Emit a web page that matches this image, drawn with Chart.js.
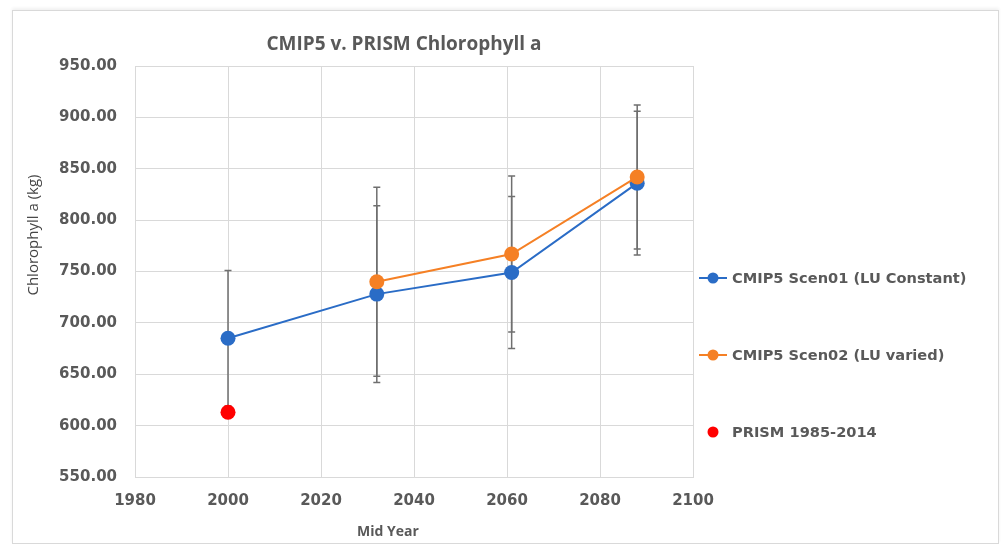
<!DOCTYPE html>
<html>
<head>
<meta charset="utf-8">
<script src="https://cdn.jsdelivr.net/npm/chart.js@4/dist/chart.umd.min.js"></script>
<style>
    html, body { margin: 0; padding: 0; background: #fff; }
    #frame {
        position: absolute; left: 12px; top: 10px; width: 985px; height: 532px;
        border: 1px solid #d9d9d9; box-shadow: 0 -2px 3px rgba(0,0,0,0.06);
    }
    #wrap { position: absolute; left: 0; top: 0; width: 1001px; height: 545px; }
</style>
</head>
<body>
<div id="frame"></div>
<div id="wrap"><canvas id="chl" width="1001" height="545"></canvas></div>
<script>
// Mid-year of each projection window
const years = [2000, 2032, 2061, 2088];
// Chlorophyll a (kg) with +/- spread
const scen01 = [685, 728, 749, 836];
const scen01Err = [66, 86, 74, 70];
const scen02 = [null, 740, 767, 842];
const scen02Err = [null, 92, 76, 70];
// Observed baseline
const prismYears = [2000];
const prism = [613];

const BLUE = '#2a6cc6';
const ORANGE = '#f58025';
const RED = '#ff0000';
const TEXT = '#595959';
const GRID = '#d9d9d9';

const labels = ['CMIP5 Scen01 (LU Constant)', 'CMIP5 Scen02 (LU varied)', 'PRISM 1985-2014'];

const toPoints = (xs, ys) => xs.map((x, i) => ({ x: x, y: ys[i] })).filter(p => p.y !== null);

// Vertical error bars with small caps, drawn under the markers
const errorBars = {
    id: 'errorBars',
    beforeDatasetsDraw(chart) {
        const { ctx, scales: { x, y } } = chart;
        const sets = [[scen01, scen01Err], [scen02, scen02Err]];
        ctx.save();
        ctx.strokeStyle = '#6f6f6f';
        ctx.lineWidth = 1.5;
        sets.forEach(([vals, errs]) => {
            vals.forEach((v, i) => {
                if (v === null || errs[i] === null) return;
                const px = x.getPixelForValue(years[i]);
                const top = y.getPixelForValue(v + errs[i]);
                const bot = y.getPixelForValue(v - errs[i]);
                ctx.beginPath();
                ctx.moveTo(px, top); ctx.lineTo(px, bot);
                ctx.moveTo(px - 3.5, top); ctx.lineTo(px + 3.5, top);
                ctx.moveTo(px - 3.5, bot); ctx.lineTo(px + 3.5, bot);
                ctx.stroke();
            });
        });
        ctx.restore();
    }
};

// Title, axis titles and the side legend
const decorations = {
    id: 'decorations',
    afterDraw(chart) {
        const ctx = chart.ctx;
        ctx.save();
        ctx.fillStyle = TEXT;
        ctx.textAlign = 'center';
        ctx.textBaseline = 'middle';
        ctx.font = 'bold 19px "Open Sans"';
        ctx.fillText('CMIP5 v. PRISM Chlorophyll a', 404, 45);

        ctx.font = 'bold 14px "Open Sans"';
        ctx.fillText('Mid Year', 388, 532);

        ctx.save();
        ctx.translate(34, 235);
        ctx.rotate(-Math.PI / 2);
        ctx.fillStyle = '#454545';
        ctx.font = '15px "Open Sans"';
        ctx.fillText('Chlorophyll a (kg)', 0, 0);
        ctx.restore();

        const colors = [BLUE, ORANGE, RED];
        const rows = [278, 355, 432];
        ctx.textAlign = 'left';
        ctx.font = 'bold 14.6px "DejaVu Sans"';
        rows.forEach((ry, i) => {
            if (i < 2) {
                ctx.strokeStyle = colors[i];
                ctx.lineWidth = 2;
                ctx.beginPath();
                ctx.moveTo(699, ry); ctx.lineTo(727, ry);
                ctx.stroke();
            }
            ctx.fillStyle = colors[i];
            ctx.beginPath();
            ctx.arc(713, ry, 5.5, 0, Math.PI * 2);
            ctx.fill();
            ctx.fillStyle = TEXT;
            ctx.fillText(labels[i], 732, ry + 1);
        });
        ctx.restore();
    }
};

new Chart(document.getElementById('chl'), {
    type: 'scatter',
    data: {
        datasets: [{
            label: labels[0],
            data: toPoints(years, scen01),
            showLine: true,
            borderColor: BLUE,
            backgroundColor: BLUE,
            borderWidth: 2,
            pointRadius: 7.5,
            pointBorderWidth: 0,
            order: 3
        }, {
            label: labels[1],
            data: toPoints(years, scen02),
            showLine: true,
            borderColor: ORANGE,
            backgroundColor: ORANGE,
            borderWidth: 2,
            pointRadius: 7.5,
            pointBorderWidth: 0,
            order: 2
        }, {
            label: labels[2],
            data: toPoints(prismYears, prism),
            borderColor: RED,
            backgroundColor: RED,
            pointRadius: 7.5,
            pointBorderWidth: 0,
            order: 1
        }]
    },
    options: {
        responsive: false,
        animation: false,
        layout: { padding: { top: 66, right: 308, left: 0, bottom: 0 } },
        plugins: { legend: { display: false }, tooltip: { enabled: false } },
        scales: {
            x: {
                type: 'linear',
                min: 1980, max: 2100,
                afterFit: s => { s.height = 68; },
                grid: { color: GRID, drawTicks: false },
                border: { color: GRID },
                ticks: {
                    stepSize: 20, padding: 15, color: TEXT,
                    font: { family: 'DejaVu Sans', size: 15, weight: 'bold' },
                    callback: v => String(v)
                }
            },
            y: {
                min: 550, max: 950,
                afterFit: s => { s.width = 135; },
                grid: { color: GRID, drawTicks: false },
                border: { color: GRID },
                ticks: {
                    stepSize: 50, padding: 18, color: TEXT,
                    font: { family: 'DejaVu Sans', size: 15, weight: 'bold' },
                    callback: v => v.toFixed(2)
                }
            }
        }
    },
    plugins: [errorBars, decorations]
});
</script>
</body>
</html>
